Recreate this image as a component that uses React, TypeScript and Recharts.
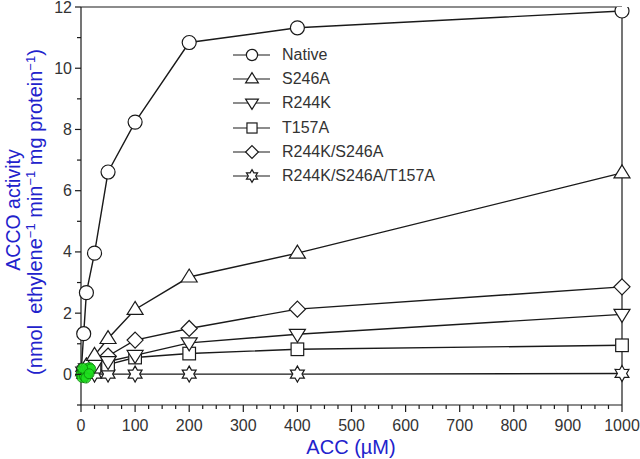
import React from 'react';
import { ComposedChart, Line, XAxis, YAxis, Legend, ReferenceLine, Label } from 'recharts';

// ACC concentrations (µM)
const accLevels = [0, 5, 10, 25, 50, 100, 200, 400, 1000];

// ACCO activity per variant
const nativeVals = [0, 1.33, 2.67, 3.96, 6.61, 8.24, 10.84, 11.32, 11.87];
const s246aVals = [0, 0.12, 0.28, 0.62, 1.17, 2.12, 3.18, 3.96, 6.58];
const r244kVals = [0, 0.08, 0.18, 0.3, 0.42, 0.62, 1.03, 1.31, 1.96];
const t157aVals = [0, 0.07, 0.15, 0.25, 0.32, 0.55, 0.68, 0.82, 0.95];
const doubleVals = [0, 0.1, 0.2, 0.35, 0.6, 1.12, 1.5, 2.13, 2.86];
const tripleVals = [0, 0.01, 0.01, 0.01, 0.01, 0.01, 0.01, 0.01, 0.03];

// green blob near the origin
const greenX = [0, 2, 4, 6, 8, 10, 12, 14, 16, 18, 3, 9, 15];
const greenY = [0, -0.1, 0.08, -0.05, 0.12, 0.05, 0.2, 0.1, 0.22, 0.18, 0.2, -0.12, 0.02];

const xTicks = [0, 25, 50, 75, 100, 125, 150, 175, 200, 225, 250, 275, 300, 325, 350, 375, 400, 425, 450, 475, 500, 525, 550, 575, 600, 625, 650, 675, 700, 725, 750, 775, 800, 825, 850, 875, 900, 925, 950, 975, 1000];
const yTicks = [-1, 0, 1, 2, 3, 4, 5, 6, 7, 8, 9, 10, 11, 12];

const series = [
  { key: 'native', name: 'Native', shape: 'circle', vals: nativeVals },
  { key: 's246a', name: 'S246A', shape: 'up', vals: s246aVals },
  { key: 'r244k', name: 'R244K', shape: 'down', vals: r244kVals },
  { key: 't157a', name: 'T157A', shape: 'square', vals: t157aVals },
  { key: 'dbl', name: 'R244K/S246A', shape: 'diamond', vals: doubleVals },
  { key: 'tri', name: 'R244K/S246A/T157A', shape: 'star', vals: tripleVals },
];

const rows = accLevels.map((x, i) => {
  const r: any = { x };
  series.forEach(s => { r[s.key] = s.vals[i]; });
  return r;
});
const greenData = greenX.map((x, i) => ({ x, g: greenY[i] }));

const INK = '#1a1a1a';
const BLUE = '#2222cc';
const FONT = 'Arial, "Liberation Sans", sans-serif';

const marker = (shape: string, cx: number, cy: number, k = 1, key?: any) => {
  const p = { fill: '#fff', stroke: INK, strokeWidth: 1.2, key };
  if (shape === 'circle') return <circle cx={cx} cy={cy} r={7 * k} {...p} />;
  if (shape === 'up') {
    const a = 8 * k;
    return <polygon points={`${cx},${cy - a} ${cx - a},${cy + a * 0.62} ${cx + a},${cy + a * 0.62}`} {...p} />;
  }
  if (shape === 'down') {
    const a = 8 * k;
    return <polygon points={`${cx},${cy + a} ${cx - a},${cy - a * 0.62} ${cx + a},${cy - a * 0.62}`} {...p} />;
  }
  if (shape === 'square') {
    const a = 6.3 * k;
    return <rect x={cx - a} y={cy - a} width={2 * a} height={2 * a} {...p} />;
  }
  if (shape === 'diamond') {
    const a = 8 * k;
    return <polygon points={`${cx},${cy - a} ${cx + a},${cy} ${cx},${cy + a} ${cx - a},${cy}`} {...p} />;
  }
  // six-pointed star
  const pts = [];
  for (let i = 0; i < 12; i++) {
    const r = (i % 2 === 0 ? 8 : 4.6) * k;
    const ang = (Math.PI / 6) * i - Math.PI / 2;
    pts.push(`${cx + r * Math.cos(ang)},${cy + r * Math.sin(ang)}`);
  }
  return <polygon points={pts.join(' ')} {...p} />;
};

const YTick = (props: any) => {
  const { x, y, payload } = props;
  const v = payload.value;
  const major = v >= 0 && v % 2 === 0;
  return (
    <g>
      <line x1={x} x2={x - (major ? 6 : 4)} y1={y} y2={y} stroke={INK} strokeWidth={1.2} />
      {major && (
        <text x={x - 9} y={y} dy={5.5} textAnchor="end" fontSize={16} fontFamily={FONT} fill="#333">{v}</text>
      )}
    </g>
  );
};

const XTick = (props: any) => {
  const { x, y, payload } = props;
  const v = payload.value;
  const major = v % 100 === 0;
  return (
    <g>
      <line x1={x} x2={x} y1={y} y2={y + (major ? 7 : 4)} stroke={INK} strokeWidth={1.2} />
      {major && (
        <text x={x} y={y + 26} textAnchor="middle" fontSize={16} fontFamily={FONT} fill="#333">{v}</text>
      )}
    </g>
  );
};

const YLabel = () => (
  <g fontFamily={FONT} fill={BLUE}>
    <text transform="translate(20,210) rotate(-90)" textAnchor="middle" fontSize={19.5}>ACCO activity</text>
    <text transform="translate(42,212) rotate(-90)" textAnchor="middle" fontSize={20}>
      <tspan>{'(nmol\u00a0 ethylene'}</tspan>
      <tspan dy={-7} fontSize={13}>−1</tspan>
      <tspan dy={7}> min</tspan>
      <tspan dy={-7} fontSize={13}>−1</tspan>
      <tspan dy={7}> mg protein</tspan>
      <tspan dy={-7} fontSize={13}>−1</tspan>
      <tspan dy={7}>)</tspan>
    </text>
  </g>
);

const LegendBox = () => (
  <div style={{ fontFamily: FONT, fontSize: 16, color: '#333' }}>
    {series.map(s => (
      <div key={s.key} style={{ display: 'flex', alignItems: 'center', height: 24.2 }}>
        <svg width={50} height={20} style={{ display: 'block' }}>
          <line x1={1} x2={38} y1={10} y2={10} stroke={INK} strokeWidth={1.2} />
          {marker(s.shape, 20, 10, 0.8)}
        </svg>
        <span style={{ whiteSpace: 'nowrap' }}>{s.name}</span>
      </div>
    ))}
  </div>
);

export default function App() {
  return (
    <div style={{ position: 'absolute', left: 0, top: 0, width: 640, height: 459, background: '#fff' }}>
      <ComposedChart width={640} height={459} data={rows} margin={{ top: 7, right: 18, bottom: 0, left: 0 }}>
        <XAxis
          type="number"
          dataKey="x"
          domain={[0, 1000]}
          ticks={xTicks}
          interval={0}
          tick={<XTick />}
          tickSize={0}
          tickMargin={0}
          tickLine={false}
          axisLine={{ stroke: INK, strokeWidth: 1.2 }}
          height={54}
        >
          <Label
            content={() => (
              <text x={351} y={454} textAnchor="middle" fontSize={20} fontFamily={FONT} fill={BLUE}>ACC (µM)</text>
            )}
          />
        </XAxis>
        <YAxis
          type="number"
          domain={[-1, 12]}
          ticks={yTicks}
          interval={0}
          tick={<YTick />}
          tickSize={0}
          tickMargin={0}
          tickLine={false}
          axisLine={{ stroke: INK, strokeWidth: 1.2 }}
          width={81}
          allowDataOverflow
        >
          <Label content={() => <YLabel />} />
        </YAxis>
        <ReferenceLine y={12} stroke={INK} strokeWidth={1.2} />
        <ReferenceLine x={1000} stroke={INK} strokeWidth={1.2} />
        {series.slice().reverse().map(s => (
          <Line
            key={s.key}
            dataKey={s.key}
            name={s.name}
            stroke={INK}
            strokeWidth={1.4}
            isAnimationActive={false}
            dot={(p: any) => (p.payload.x === 0 ? <g key={p.key} /> : marker(s.shape, p.cx, p.cy, 1, p.key))}
            activeDot={false}
          />
        ))}
        <Line
          data={greenData}
          dataKey="g"
          stroke="none"
          isAnimationActive={false}
          activeDot={false}
          dot={(p: any) => <circle key={p.key} cx={p.cx} cy={p.cy} r={5} fill="#1fe01f" stroke="#0a8a0a" strokeWidth={1} opacity={0.85} />}
        />
        <Legend
          layout="vertical"
          align="center"
          verticalAlign="middle"
          content={() => <LegendBox />}
          wrapperStyle={{ left: 232, top: 43, width: 260 }}
        />
      </ComposedChart>
    </div>
  );
}
